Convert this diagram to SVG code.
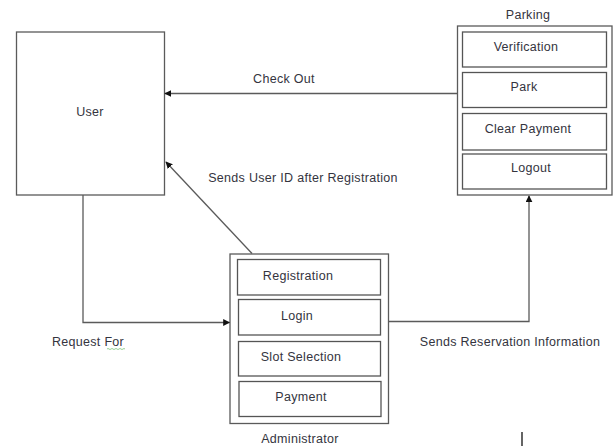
<svg xmlns="http://www.w3.org/2000/svg" width="613" height="446" viewBox="0 0 613 446">
  <style>
    .box { fill: #ffffff; stroke: #5a5a5a; stroke-width: 1.3; }
    .sub { fill: #ffffff; stroke: #555555; stroke-width: 1.3; }
    .lbl { font-family: "Liberation Sans", Arial, sans-serif; font-size: 12.5px; letter-spacing: 0.3px; fill: #34343e; text-anchor: middle; }
    .wire { fill: none; stroke: #5a5a5a; stroke-width: 1.3; }
  </style>
  <defs>
    <marker id="tip" viewBox="0 0 10 10" refX="9" refY="5" markerWidth="7" markerHeight="7" markerUnits="userSpaceOnUse" orient="auto">
      <path d="M0,0 L10,5 L0,10 Z" fill="#111111"/>
    </marker>
  </defs>
  <rect width="613" height="446" fill="#ffffff"/>

  <!-- User -->
  <g id="user">
    <rect class="box" x="16.5" y="32" width="148" height="163"/>
    <text class="lbl" x="90" y="116">User</text>
  </g>

  <!-- Parking -->
  <g id="parking">
    <text class="lbl" x="528" y="19">Parking</text>
    <rect class="box" x="457.5" y="26" width="154.5" height="169"/>
    <rect class="sub" x="462.5" y="32" width="144" height="35"/>
    <text class="lbl" x="526" y="50.5">Verification</text>
    <rect class="sub" x="462.5" y="72.5" width="144" height="35"/>
    <text class="lbl" x="524" y="91">Park</text>
    <rect class="sub" x="462.5" y="113.5" width="144" height="36.5"/>
    <text class="lbl" x="528" y="132.5">Clear Payment</text>
    <rect class="sub" x="462.5" y="154" width="144" height="35"/>
    <text class="lbl" x="531" y="171.5">Logout</text>
  </g>

  <!-- Administrator -->
  <g id="administrator">
    <rect class="box" x="230" y="254" width="158.5" height="169.5"/>
    <rect class="sub" x="237.5" y="259.5" width="143" height="35.5"/>
    <text class="lbl" x="298" y="279.5">Registration</text>
    <rect class="sub" x="238.5" y="299.5" width="142" height="35.5"/>
    <text class="lbl" x="297" y="319.5">Login</text>
    <rect class="sub" x="238.5" y="341.5" width="142" height="34.5"/>
    <text class="lbl" x="301" y="360.5">Slot Selection</text>
    <rect class="sub" x="239" y="381.5" width="142" height="35"/>
    <text class="lbl" x="301" y="401">Payment</text>
    <text class="lbl" x="300" y="443">Administrator</text>
  </g>

  <!-- Connectors -->
  <g id="connectors">
    <path class="wire" d="M457.5,93.5 L165,93.5" marker-end="url(#tip)"/>
    <path class="wire" d="M252,253.5 L166,162" marker-end="url(#tip)"/>
    <path class="wire" d="M83,195 L83,322.5 L229.5,322.5" marker-end="url(#tip)"/>
    <path class="wire" d="M388.5,321.5 L529,321.5 L529,196" marker-end="url(#tip)"/>
  </g>

  <!-- Connector labels -->
  <g id="labels">
    <text class="lbl" x="284" y="83">Check Out</text>
    <text class="lbl" x="303" y="182">Sends User ID after Registration</text>
    <text class="lbl" x="88" y="345.5">Request For</text>
    <path d="M107,349 q1,-1 2,0 t2,0 t2,0 t2,0 t2,0 t2,0 t2,0 t2,0 t2,0" fill="none" stroke="#7cc47c" stroke-width="0.8"/>
    <text class="lbl" x="510" y="345.5">Sends Reservation Information</text>
  </g>

  <!-- Text cursor -->
  <line x1="522" y1="432" x2="522" y2="446" stroke="#111111" stroke-width="1.3"/>
</svg>
